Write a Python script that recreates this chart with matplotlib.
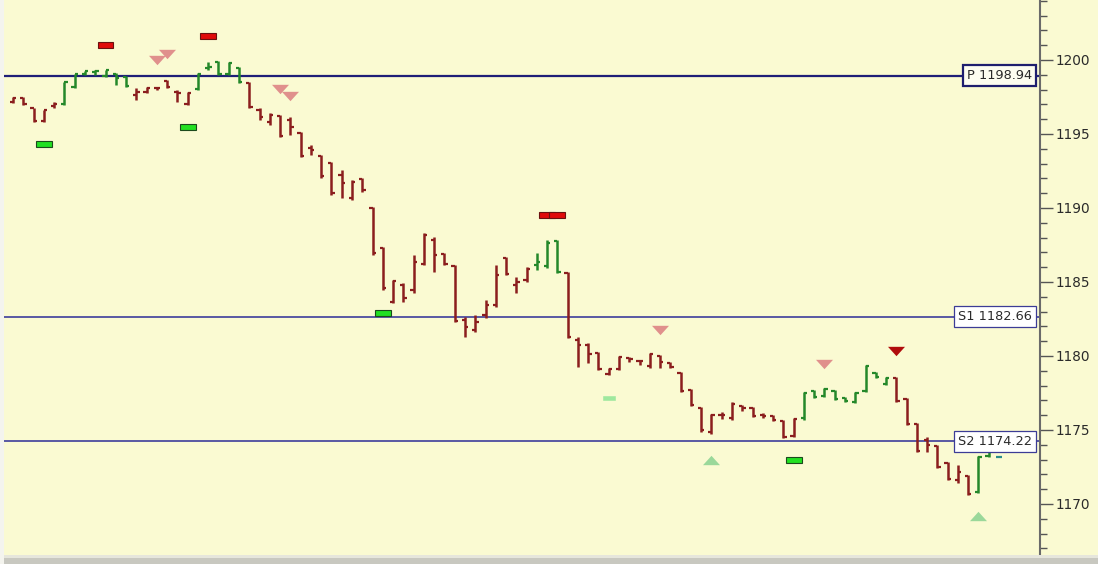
import matplotlib
matplotlib.use("Agg")
import matplotlib.pyplot as plt
from matplotlib.patches import Rectangle
from matplotlib.path import Path
from matplotlib.ticker import MultipleLocator

# ---- OHLC bars (left to right) ----
opens = [1197.16, 1197.43, 1196.76, 1195.88, 1196.89, 1197.03, 1198.18, 1199.05, 1199.19, 1198.92,
         1199.05, 1198.85, 1197.64, 1197.84, 1198.11, 1198.58, 1197.84, 1197.03, 1198.04, 1199.46,
         1199.86, 1199.05, 1199.46, 1198.45, 1196.62, 1195.81, 1196.22, 1195.95, 1195.07, 1194.05,
         1193.51, 1193.04, 1192.23, 1190.68, 1191.96, 1190.00, 1187.30, 1183.65, 1184.80, 1184.46,
         1186.22, 1187.84, 1186.89, 1186.08, 1182.43, 1181.76, 1182.77, 1183.45, 1186.62, 1184.80,
         1185.14, 1186.15, 1186.08, 1187.77, 1185.61, 1181.08, 1180.74, 1180.20, 1178.78, 1179.12,
         1179.86, 1179.66, 1179.32, 1180.00, 1179.53, 1178.85, 1177.70, 1176.49, 1174.86, 1176.01,
         1175.81, 1176.62, 1176.49, 1176.01, 1175.95, 1175.61, 1174.59, 1175.81, 1177.64, 1177.30,
         1177.64, 1177.16, 1176.89, 1177.64, 1178.85, 1178.11, 1178.51, 1177.09, 1175.41, 1174.32,
         1173.92, 1172.77, 1171.62, 1171.89, 1170.81, 1173.24, 1173.18]
highs = [1197.50, 1197.50, 1196.76, 1196.62, 1197.16, 1198.51, 1199.05, 1199.26, 1199.32, 1199.32,
         1199.12, 1198.92, 1198.11, 1198.18, 1198.18, 1198.65, 1197.97, 1197.84, 1199.12, 1199.86,
         1199.93, 1199.86, 1199.53, 1198.51, 1196.76, 1196.42, 1196.28, 1196.15, 1195.14, 1194.26,
         1193.58, 1193.11, 1192.57, 1191.89, 1192.03, 1190.07, 1187.36, 1185.14, 1184.93, 1186.82,
         1188.31, 1188.04, 1186.96, 1186.15, 1182.64, 1182.77, 1183.78, 1186.15, 1186.69, 1185.34,
         1186.01, 1186.96, 1187.84, 1187.84, 1185.68, 1181.28, 1180.88, 1180.27, 1179.19, 1180.00,
         1179.93, 1179.73, 1180.20, 1180.07, 1179.59, 1178.92, 1177.77, 1176.55, 1176.08, 1176.22,
         1176.89, 1176.69, 1176.55, 1176.15, 1176.01, 1175.68, 1175.81, 1177.57, 1177.70, 1177.84,
         1177.70, 1177.23, 1177.57, 1179.39, 1178.92, 1178.58, 1178.58, 1177.16, 1175.47, 1174.53,
         1173.99, 1172.84, 1172.64, 1171.96, 1173.24, 1173.65, 1173.20]
lows = [1197.09, 1196.96, 1195.81, 1195.81, 1196.76, 1196.96, 1198.11, 1198.99, 1198.99, 1198.85,
        1198.31, 1198.18, 1197.30, 1197.77, 1197.97, 1198.11, 1197.16, 1196.96, 1197.97, 1199.32,
        1198.99, 1198.99, 1198.45, 1196.76, 1195.95, 1195.61, 1194.80, 1194.93, 1193.45, 1193.58,
        1192.03, 1190.88, 1190.68, 1190.54, 1191.08, 1186.82, 1184.46, 1183.58, 1183.65, 1184.26,
        1186.15, 1185.68, 1186.15, 1182.30, 1181.28, 1181.62, 1182.57, 1183.31, 1185.47, 1184.26,
        1185.00, 1185.81, 1185.95, 1185.61, 1181.22, 1179.26, 1179.53, 1179.05, 1178.72, 1179.05,
        1179.59, 1179.39, 1179.19, 1179.19, 1179.19, 1177.57, 1176.62, 1174.86, 1174.73, 1175.74,
        1175.68, 1176.28, 1175.88, 1175.81, 1175.61, 1174.46, 1174.53, 1175.68, 1177.16, 1177.23,
        1177.03, 1176.89, 1176.82, 1177.57, 1178.51, 1178.04, 1176.89, 1175.34, 1173.51, 1173.51,
        1172.43, 1171.62, 1171.42, 1170.61, 1170.74, 1173.18, 1173.14]
closes = [1197.43, 1197.03, 1195.88, 1196.62, 1197.03, 1198.51, 1199.05, 1199.26, 1199.26, 1199.32,
          1198.78, 1198.24, 1197.84, 1198.11, 1198.11, 1198.18, 1197.77, 1197.77, 1199.05, 1199.53,
          1199.05, 1199.80, 1198.51, 1196.82, 1196.15, 1196.28, 1194.86, 1195.47, 1193.51, 1193.92,
          1192.16, 1191.01, 1191.69, 1191.76, 1191.22, 1186.96, 1184.59, 1185.07, 1183.92, 1186.35,
          1188.18, 1186.82, 1186.22, 1182.36, 1181.96, 1182.30, 1183.45, 1185.47, 1185.54, 1185.00,
          1185.88, 1186.35, 1187.64, 1185.68, 1181.28, 1180.74, 1180.14, 1179.12, 1179.12, 1179.93,
          1179.80, 1179.66, 1180.14, 1179.59, 1179.26, 1177.64, 1176.69, 1175.00, 1176.01, 1176.01,
          1176.76, 1176.49, 1175.95, 1175.95, 1175.68, 1174.53, 1175.74, 1177.50, 1177.23, 1177.77,
          1177.09, 1176.96, 1177.50, 1179.32, 1178.58, 1178.51, 1176.96, 1175.41, 1173.58, 1173.99,
          1172.50, 1171.69, 1172.16, 1170.68, 1173.18, 1173.58, 1173.18]
# bar colouring state: 0 = down trend, 1 = up trend, 2 = live bar
trend = [0]*5 + [1]*7 + [0]*6 + [1]*5 + [0]*28 + [1]*3 + [0]*23 + [1]*9 + [0]*8 + [1]*2 + [2]

# ---- pivot levels ----
pivot_names = ["P", "S1", "S2"]
pivot_levels = [1198.94, 1182.66, 1174.22]

# ---- signal markers (bar index, price) ----
sell_box_idx = [9, 19, 52, 53]
sell_box_px = [1201.01, 1201.62, 1189.53, 1189.53]
buy_box_idx = [3, 17, 36, 76]
buy_box_px = [1194.32, 1195.47, 1182.91, 1172.97]
weak_buy_box_idx = [58]
weak_buy_box_px = [1177.16]
sell_tri_idx = [14, 15, 26, 27, 63, 79]
sell_tri_px = [1200.00, 1200.41, 1198.04, 1197.57, 1181.76, 1179.46]
strong_sell_tri_idx = [86]
strong_sell_tri_px = [1180.34]
buy_tri_idx = [68, 94]
buy_tri_px = [1172.97, 1169.19]

BG = "#fafad2"
bar_cols = {0: "#8b1e1e", 1: "#24882a", 2: "#2a8c8c"}

W, H = 1098, 564
fig = plt.figure(figsize=(W / 100, H / 100), dpi=100, facecolor=BG)
ax = fig.add_axes([4 / W, 9 / H, (1040 - 4) / W, (H - 9) / H])
ax.set_facecolor(BG)

# bars: vertical high-low, open tick left, close tick right
n = len(closes)
xs = list(range(n))
cols = [bar_cols[t] for t in trend]
tick = 0.32
ax.vlines(xs, lows, highs, colors=cols, linewidth=1.8, zorder=3)
ax.hlines(opens, [x - tick for x in xs], xs, colors=cols, linewidth=1.6, zorder=3)
ax.hlines(closes, xs, [x + tick for x in xs], colors=cols, linewidth=1.6, zorder=3)

# pivot lines and their boxed labels
for name, lvl in zip(pivot_names, pivot_levels):
    main = name == "P"
    ax.axhline(lvl, color="#1e1e78" if main else "#2c2c96", lw=1.6 if main else 1.1, zorder=2)
    ax.text(0.9925, lvl, f"{name} {lvl:.2f}", transform=ax.get_yaxis_transform(),
            ha="right", va="center", fontsize=9.3, color="#2a2a2a", zorder=6,
            bbox=dict(boxstyle="square,pad=0.3", fc="#fdfdf0" if main else "#ffffff",
                      ec="#1e1e6e" if main else "#3c3c96", lw=1.6 if main else 0.9))

# rectangular signal boxes
bw, bh = 1.55, 0.45
def boxes(idx, px, fc, ec, w=bw, h=bh, lw=0.8):
    for i, p in zip(idx, px):
        ax.add_patch(Rectangle((i - w / 2, p - h / 2), w, h, fc=fc, ec=ec, lw=lw, zorder=5))

boxes(sell_box_idx, sell_box_px, "#e00a0a", "#6a1010")
boxes(buy_box_idx, buy_box_px, "#22e022", "#1c4a1c")
boxes(weak_buy_box_idx, weak_buy_box_px, "#9ee89e", "#9ee89e", w=1.15, h=0.32, lw=0.4)

# flat triangles
tri_dn = Path([(-1, 0.55), (1, 0.55), (0, -0.55), (-1, 0.55)])
tri_up = Path([(-1, -0.55), (1, -0.55), (0, 0.55), (-1, -0.55)])
ax.scatter(sell_tri_idx, sell_tri_px, marker=tri_dn, s=150, c="#e0908c", lw=0, zorder=5)
ax.scatter(strong_sell_tri_idx, strong_sell_tri_px, marker=tri_dn, s=150, c="#b00c0c", lw=0, zorder=5)
ax.scatter(buy_tri_idx, buy_tri_px, marker=tri_up, s=150, c="#9ad89a", lw=0, zorder=5)

# axes: price scale on the right
ax.set_xlim(-0.886, 99.99)
ax.set_ylim(1166.55, 1204.05)
for s in ["left", "top", "bottom"]:
    ax.spines[s].set_visible(False)
ax.spines["right"].set_color("#6a6a6a")
ax.spines["right"].set_linewidth(1.5)
ax.set_xticks([])
ax.yaxis.tick_right()
ax.yaxis.set_major_locator(MultipleLocator(5))
ax.yaxis.set_minor_locator(MultipleLocator(1))
ax.tick_params(axis="y", which="major", length=9, width=1, color="#555555",
               labelsize=9.8, labelcolor="#2a2a2a", pad=2)
ax.tick_params(axis="y", which="minor", length=5, width=1, color="#555555")

# window frame bits
fig.patches.append(Rectangle((0, 0), 1, 9 / H, transform=fig.transFigure,
                             fc="#c8c8c0", ec="none", zorder=0))
fig.patches.append(Rectangle((0, 6 / H), 1, 3 / H, transform=fig.transFigure,
                             fc="#e6e6dc", ec="none", zorder=0))
fig.patches.append(Rectangle((0, 0), 4 / W, 1, transform=fig.transFigure,
                             fc="#f4f4ee", ec="none", zorder=0))

fig.savefig("out.png", dpi=100, facecolor=BG)
